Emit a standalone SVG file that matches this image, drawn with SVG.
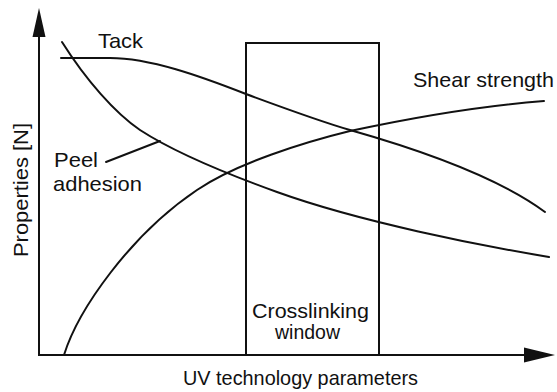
<svg xmlns="http://www.w3.org/2000/svg" width="557" height="392" viewBox="0 0 557 392">
  <style>
    .line { fill: none; stroke: #111; stroke-width: 2; stroke-linecap: round; stroke-linejoin: round; }
    .axis { fill: none; stroke: #111; stroke-width: 2; }
    .head { fill: #111; stroke: none; }
    .label { font-family: "Liberation Sans", Arial, sans-serif; font-size: 21px; fill: #111; }
  </style>
  <rect width="557" height="392" fill="#fff"/>

  <!-- axes -->
  <g id="axes">
    <line class="axis" x1="39" y1="356" x2="39" y2="34"/>
    <polygon class="head" points="39,8 45.5,37 32.5,37"/>
    <line class="axis" x1="38" y1="355" x2="527" y2="355"/>
    <polygon class="head" points="555,355 524,347.5 524,362.5"/>
    <text class="label" transform="translate(28,257) rotate(-90)" textLength="134" lengthAdjust="spacingAndGlyphs">Properties [N]</text>
    <text class="label" x="183" y="385" textLength="235" lengthAdjust="spacingAndGlyphs">UV technology parameters</text>
  </g>

  <!-- crosslinking window -->
  <g id="window">
    <rect class="axis" x="246" y="43" width="133" height="312"/>
    <line class="axis" x1="246" y1="355" x2="379" y2="355" stroke-width="3"/>
    <text class="label" x="252" y="318" textLength="117" lengthAdjust="spacingAndGlyphs">Crosslinking</text>
    <text class="label" x="275" y="339" textLength="65" lengthAdjust="spacingAndGlyphs">window</text>
  </g>

  <!-- curves -->
  <g id="curves">
    <g id="tack">
      <path class="line" d="M61,58 L110,58 C150,58 200,76 246,94 C280,106.6 320,121.3 350,130 C410,147 495,175 545,212"/>
      <text class="label" x="98" y="48" textLength="45" lengthAdjust="spacingAndGlyphs">Tack</text>
    </g>
    <g id="peel">
      <path class="line" d="M62,42 C86,80 115,113 140,130 C180,156 237,177.6 277,192 C360,221.9 480,245.5 549,257"/>
      <line class="line" x1="106" y1="162" x2="160" y2="141"/>
      <text class="label" x="54" y="167" textLength="44" lengthAdjust="spacingAndGlyphs">Peel</text>
      <text class="label" x="53" y="191" textLength="89" lengthAdjust="spacingAndGlyphs">adhesion</text>
    </g>
    <g id="shear">
      <path class="line" d="M64,355 C78,310 130,235 197,190 C237,163 305,142 350,131 C415,117 479,106 544,101"/>
      <text class="label" x="413" y="87" textLength="141" lengthAdjust="spacingAndGlyphs">Shear strength</text>
    </g>
  </g>
</svg>
